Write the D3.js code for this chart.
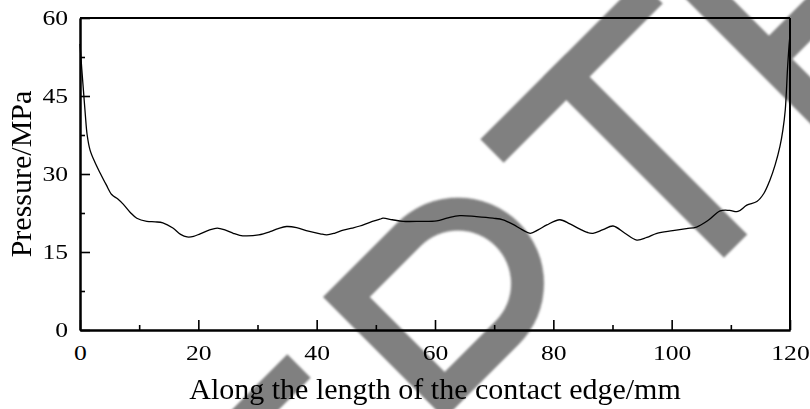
<!DOCTYPE html>
<html>
<head>
<meta charset="utf-8">
<script src="https://cdn.jsdelivr.net/npm/d3@7/dist/d3.min.js"></script>
<style>
  html, body { margin: 0; padding: 0; background: #fff; }
  svg { display: block; }
  text { font-family: "Liberation Serif", "Times New Roman", serif; fill: #000; }
</style>
</head>
<body>
<svg id="chart" width="810" height="409"></svg>
<script>
// ---- data ----
const positionMm = [0, 0.3, 0.6, 0.9, 1.2, 1.7, 2.5, 3.4, 4.4, 5.4, 6.4, 7.3, 8.5, 9.6, 11.3, 12.7, 14.0, 15.7, 17.0, 18.1, 19.2, 20.3, 21.8, 23.2, 24.6, 25.9, 27.0, 28.2, 30.2, 32.1, 33.5, 34.9, 36.6, 38.6, 40.6, 41.7, 43.0, 44.5, 46.0, 47.3, 49.0, 50.7, 51.2, 52.8, 54.6, 57.5, 60.3, 62.0, 64.2, 67.0, 69.8, 71.5, 73.2, 74.7, 76.1, 77.5, 78.9, 81.1, 82.8, 84.5, 85.6, 86.7, 88.4, 90.1, 92.1, 94.1, 95.8, 97.5, 100.2, 102.5, 104.2, 106.3, 108.2, 109.8, 111.2, 112.7, 114.4, 115.6, 116.6, 117.5, 118.3, 118.8, 119.2, 119.6, 119.9, 120];
const pressureMPa = [55, 50.2, 45.8, 41.4, 37.6, 34.6, 32.3, 30.2, 28.0, 26.0, 25.2, 24.2, 22.6, 21.5, 20.9, 20.8, 20.6, 19.6, 18.4, 17.9, 18.0, 18.5, 19.2, 19.6, 19.2, 18.6, 18.2, 18.1, 18.3, 18.9, 19.5, 19.9, 19.7, 19.0, 18.5, 18.3, 18.6, 19.2, 19.6, 20.0, 20.7, 21.3, 21.5, 21.2, 20.9, 20.9, 21.0, 21.5, 22.0, 21.8, 21.5, 21.2, 20.3, 19.3, 18.6, 19.3, 20.2, 21.2, 20.4, 19.4, 18.8, 18.6, 19.3, 20.0, 18.6, 17.3, 17.8, 18.6, 19.1, 19.5, 19.8, 21.2, 22.9, 23.0, 22.8, 24.0, 24.7, 26.3, 28.8, 31.8, 35.3, 38.5, 42.3, 50.6, 55.5, 56.5];
const xMajorTicks = [0, 20, 40, 60, 80, 100, 120];
const xMinorTicks = [10, 30, 50, 70, 90, 110];
const yMajorTicks = [0, 15, 30, 45, 60];
const yMinorTicks = [7.5, 22.5, 37.5, 52.5];
const xTitle = "Along the length of the contact edge/mm";
const yTitle = "Pressure/MPa";

const svg = d3.select("#chart");
svg.append("rect").attr("width", 810).attr("height", 409).attr("fill", "#fff");

// ---- background watermark (grey rotated strokes) ----
const defs = svg.append("defs");
defs.append("filter").attr("id", "soft").attr("x", "-10%").attr("y", "-10%").attr("width", "120%").attr("height", "120%")
  .append("feGaussianBlur").attr("stdDeviation", 1.1);
const wm = svg.append("g").attr("fill", "#808080").attr("filter", "url(#soft)");
// stroke at lower left
wm.append("g").attr("transform", "translate(299,366) rotate(-45)")
  .append("rect").attr("x", -220).attr("y", -16.5).attr("width", 220).attr("height", 33);
// D
wm.append("g").attr("transform", "translate(323,297) rotate(-45)")
  .append("path").attr("fill-rule", "evenodd")
  .attr("d", "M0,0H105A86,86 0 0 1 105,172H0Z M33,33H105A53,53 0 0 1 105,139H33Z");
// T
const gT = wm.append("g").attr("transform", "translate(492,151) rotate(-45)");
gT.append("rect").attr("x", 0).attr("y", -16.5).attr("width", 225).attr("height", 33);
gT.append("rect").attr("x", 88.5).attr("y", -16.5).attr("width", 33).attr("height", 256);
// E
const gE = wm.append("g").attr("transform", "translate(769,59) rotate(-45)");
gE.append("rect").attr("x", -16.5).attr("y", -200).attr("width", 33).attr("height", 400);
gE.append("rect").attr("x", 0).attr("y", -16.5).attr("width", 160).attr("height", 33);

// ---- scales ----
const x = d3.scaleLinear().domain([0, 120]).range([80, 790]);
const y = d3.scaleLinear().domain([0, 60]).range([330, 18]);

// ---- curve ----
const data = positionMm.map((d, i) => [d, pressureMPa[i]]);
svg.append("path").datum(data)
  .attr("fill", "none").attr("stroke", "#000").attr("stroke-width", 1.3)
  .attr("d", d3.line().x(d => x(d[0])).y(d => y(d[1])).curve(d3.curveCatmullRom.alpha(0.5)));

// ---- axes ----
const SX = 1.25;
function styleAxis(g) {
  g.selectAll(".domain").attr("stroke", "#000").attr("stroke-width", 2);
  g.selectAll(".tick line").attr("stroke", "#000").attr("stroke-width", 1.6);
  g.selectAll("text").attr("font-size", 20.5).attr("font-family", '"Liberation Serif", "Times New Roman", serif').attr("fill", "#000");
}
const gx = svg.append("g").attr("transform", "translate(0,330)")
  .call(d3.axisBottom(x).tickValues(xMajorTicks).tickSize(-10).tickSizeOuter(0).tickPadding(15).tickFormat(d3.format("d")));
styleAxis(gx);
gx.selectAll(".tick text").attr("transform", `scale(${SX},1)`);
const gxm = svg.append("g").attr("transform", "translate(0,330)")
  .call(d3.axisBottom(x).tickValues(xMinorTicks).tickSize(-5).tickSizeOuter(0).tickFormat(""));
styleAxis(gxm);
const gy = svg.append("g").attr("transform", "translate(80,0)")
  .call(d3.axisLeft(y).tickValues(yMajorTicks).tickSize(-10).tickSizeOuter(0).tickPadding(12).tickFormat(d3.format("d")));
styleAxis(gy);
gy.selectAll(".tick text").attr("x", -12 / SX).attr("transform", `scale(${SX},1)`);
const gym = svg.append("g").attr("transform", "translate(80,0)")
  .call(d3.axisLeft(y).tickValues(yMinorTicks).tickSize(-5).tickSizeOuter(0).tickFormat(""));
styleAxis(gym);

// frame top & right
svg.append("line").attr("x1", x(0)).attr("x2", x(120)).attr("y1", y(60)).attr("y2", y(60))
  .attr("stroke", "#000").attr("stroke-width", 2);
svg.append("line").attr("x1", x(120)).attr("x2", x(120)).attr("y1", y(60)).attr("y2", y(0))
  .attr("stroke", "#000").attr("stroke-width", 2);

// ---- titles ----
svg.append("text").attr("x", 435).attr("y", 399).attr("text-anchor", "middle")
  .attr("font-size", 30).text(xTitle);
svg.append("text").attr("transform", "translate(31,174) rotate(-90)").attr("text-anchor", "middle")
  .attr("font-size", 30).text(yTitle);
</script>
</body>
</html>
